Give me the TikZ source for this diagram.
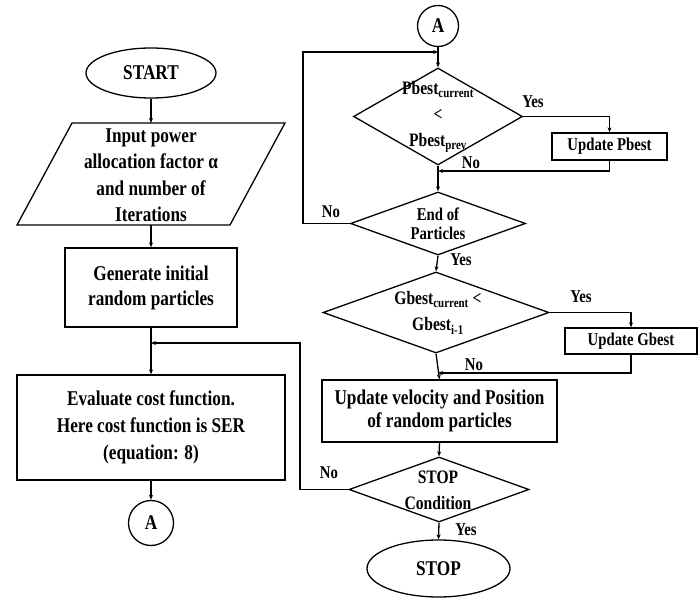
\documentclass[tikz,border=0pt]{standalone}
\usepackage{fontspec}
\setmainfont{Liberation Serif}[FakeStretch=0.82]
\usetikzlibrary{shapes.geometric,arrows.meta}
\begin{document}
\begin{tikzpicture}[x=1pt,y=-1pt,line width=1.3pt,
  txt/.style={font=\fontsize{21}{25}\selectfont\bfseries,align=center,inner sep=0pt},
  dtxt/.style={font=\fontsize{19}{26}\selectfont\bfseries,align=center,inner sep=0pt},
  boxnode/.style={draw,rectangle,inner sep=0pt,txt},
  dia/.style={draw,diamond,inner sep=0pt},
  term/.style={draw,ellipse,inner sep=0pt,txt},
  conn/.style={draw,circle,inner sep=0pt,txt},
  arr/.style={-{Stealth[length=5pt,width=4pt]}},
  lab/.style={font=\fontsize{18}{20}\selectfont\bfseries,inner sep=0pt}]
\useasboundingbox (0,0) rectangle (699,599);
% left column
\node[term,minimum width=130,minimum height=50] (start) at (151,73) {START};
\coordinate (p1) at (72,123);
\coordinate (p2) at (285,123);
\coordinate (p3) at (230,225);
\coordinate (p4) at (17,225);
\draw (p1) -- (p2) -- (p3) -- (p4) -- cycle;
\coordinate (inpT) at (151,123);
\coordinate (inpB) at (151,225);
\node[txt,font=\fontsize{21}{26.5}\selectfont\bfseries] (inp) at (151,175) {Input power\\allocation factor α\\and number of\\Iterations};
\node[boxnode,minimum width=172,minimum height=79] (gen) at (151,287.5) {Generate initial\\random particles};
\node[boxnode,minimum width=268,minimum height=105,font=\fontsize{21}{27}\selectfont\bfseries] (eval) at (151,427.5) {Evaluate cost function.\\Here cost function is SER\\(equation: 8)};
\node[conn,minimum size=45] (A1) at (151,523) {A};
% right column
\node[conn,minimum size=41] (A2) at (438,26) {A};
\node[dia,minimum width=169,minimum height=97] (d1) at (438,116.5) {};
\node[dtxt] (d1t) at (438,117) {Pbest\textsubscript{current}\\<\\Pbest\textsubscript{prev}};
\node[boxnode,minimum width=115,minimum height=27,font=\fontsize{18}{20}\selectfont\bfseries] (upd1) at (609.5,146.5) {Update Pbest};
\node[dia,minimum width=175,minimum height=63] (d2) at (438,223.5) {};
\node[dtxt,font=\fontsize{18}{19}\selectfont\bfseries] (d2t) at (438,224) {End of\\Particles};
\node[dia,minimum width=226,minimum height=81] (d3) at (436,312.5) {};
\node[dtxt] (d3t) at (438,313) {Gbest\textsubscript{current} <\\Gbest\textsubscript{i-1}};
\node[boxnode,minimum width=132,minimum height=26,font=\fontsize{18}{20}\selectfont\bfseries] (upd2) at (631,341) {Update Gbest};
\node[boxnode,minimum width=235,minimum height=62,font=\fontsize{21}{23}\selectfont\bfseries] (vel) at (439.5,411) {Update velocity and Position\\of random particles};
\node[dia,minimum width=180,minimum height=65] (d4) at (439,489.5) {};
\node[dtxt] (d4t) at (438,490) {STOP\\Condition};
\node[term,minimum width=143,minimum height=57] (stop) at (438.5,568.5) {STOP};
% connectors
\draw[arr] (start.south) -- (inpT);
\draw[arr] (inpB) -- (gen.north);
\draw[arr] (gen.south) -- (eval.north);
\coordinate (j1) at (151,343);
\coordinate (c1) at (300,343);
\draw[arr] (d4.west) -| (c1) -- (j1);
\draw[arr] (eval.south) -- (A1.north);
\draw[arr] (A2.south) -- (d1.north);
\coordinate (j2) at (438,52);
\coordinate (c2) at (303,52);
\draw[arr] (d2.west) -| (c2) -- (j2);
\draw[arr] (d1.east) -| (upd1.north);
\coordinate (j3) at (438,171);
\draw[arr] (upd1.south) |- (j3);
\draw[arr] (d1.south) -- (d2.north);
\draw[arr] (d2.south) -- (d3.north);
\draw[arr] (d3.east) -| (upd2.north);
\coordinate (j4) at (438,373);
\draw[arr] (upd2.south) |- (j4);
\draw[arr] (d3.south) -- (vel.north);
\draw[arr] (vel.south) -- (d4.north);
\draw[arr] (d4.south) -- (stop.north);
% labels
\node[lab] (y1) at (533,102) {Yes};
\node[lab] (n1) at (471,163) {No};
\node[lab] (n2) at (331,212) {No};
\node[lab] (y2) at (461,260) {Yes};
\node[lab] (y3) at (581,297) {Yes};
\node[lab] (n3) at (474,365) {No};
\node[lab] (n4) at (329,473) {No};
\node[lab] (y4) at (466,530) {Yes};
\end{tikzpicture}
\end{document}
